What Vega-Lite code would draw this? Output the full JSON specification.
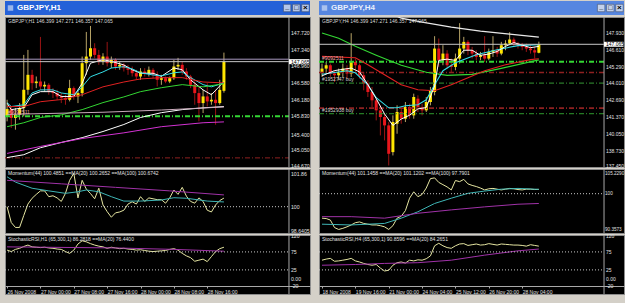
{
"$schema": "https://vega.github.io/schema/vega-lite/v6.json",
"background": "#d4d0c8",
"padding": {"left": 3, "top": 1, "right": 3, "bottom": 9},
"config": {"view": {"stroke": "#8c8c8c"}, "scale": {"continuousPadding": 0}, "font": "Liberation Sans",
 "axis": {"labelFont": "Liberation Sans", "labelFontSize": 5.5, "labelColor": "#e0e0e0", "domainColor": "#a8a8a8", "tickColor": "#a8a8a8", "grid": false, "title": null, "labelOverlap": false, "labelFlush": false, "labelBound": false, "tickSize": 2, "labelPadding": 1, "zindex": 1}},
"datasets": {
"Lc": [
{"i":0,"o":145.816,"h":146.195,"l":145.702,"c":145.983},{"i":1,"o":145.983,"h":146.043,"l":145.550,"c":145.778},{"i":2,"o":145.778,"h":146.005,"l":145.512,"c":145.854},{"i":3,"o":145.854,"h":146.119,"l":145.740,"c":146.005},{"i":4,"o":146.005,"h":147.219,"l":145.816,"c":146.423},{"i":5,"o":146.423,"h":147.333,"l":146.309,"c":146.764},{"i":6,"o":146.764,"h":146.878,"l":146.423,"c":146.574},{"i":7,"o":146.574,"h":146.726,"l":146.461,"c":146.612},{"i":8,"o":146.612,"h":147.629,"l":146.423,"c":146.498},{"i":9,"o":146.498,"h":146.612,"l":146.385,"c":146.536},{"i":10,"o":146.536,"h":146.574,"l":146.309,"c":146.385},{"i":11,"o":146.385,"h":146.461,"l":146.233,"c":146.347},{"i":12,"o":146.347,"h":146.423,"l":146.195,"c":146.271},{"i":13,"o":146.271,"h":146.347,"l":146.119,"c":146.233},{"i":14,"o":146.233,"h":146.309,"l":146.081,"c":146.195},{"i":15,"o":146.195,"h":146.650,"l":146.157,"c":146.461},{"i":16,"o":146.461,"h":146.498,"l":146.195,"c":146.271},{"i":17,"o":146.271,"h":146.423,"l":146.119,"c":146.347},{"i":18,"o":146.347,"h":147.181,"l":146.271,"c":147.030},{"i":19,"o":147.030,"h":147.743,"l":146.764,"c":147.181},{"i":20,"o":147.181,"h":147.879,"l":147.105,"c":147.371},{"i":21,"o":147.371,"h":147.485,"l":147.143,"c":147.219},{"i":22,"o":147.219,"h":147.333,"l":146.992,"c":147.067},{"i":23,"o":147.067,"h":147.257,"l":146.992,"c":147.181},{"i":24,"o":147.181,"h":147.515,"l":146.954,"c":147.030},{"i":25,"o":147.030,"h":147.181,"l":146.916,"c":147.105},{"i":26,"o":147.105,"h":147.143,"l":146.878,"c":146.954},{"i":27,"o":146.954,"h":147.067,"l":146.878,"c":146.992},{"i":28,"o":146.992,"h":147.030,"l":146.840,"c":146.916},{"i":29,"o":146.916,"h":146.992,"l":146.764,"c":146.878},{"i":30,"o":146.878,"h":146.954,"l":146.726,"c":146.802},{"i":31,"o":146.802,"h":146.878,"l":146.650,"c":146.726},{"i":32,"o":146.726,"h":146.916,"l":146.650,"c":146.840},{"i":33,"o":146.840,"h":146.916,"l":146.726,"c":146.802},{"i":34,"o":146.802,"h":146.954,"l":146.726,"c":146.878},{"i":35,"o":146.878,"h":146.916,"l":146.688,"c":146.764},{"i":36,"o":146.764,"h":146.840,"l":146.498,"c":146.650},{"i":37,"o":146.650,"h":146.764,"l":146.536,"c":146.688},{"i":38,"o":146.688,"h":146.726,"l":146.574,"c":146.612},{"i":39,"o":146.612,"h":146.726,"l":146.574,"c":146.688},{"i":40,"o":146.688,"h":147.105,"l":146.650,"c":146.954},{"i":41,"o":146.954,"h":147.151,"l":146.878,"c":146.992},{"i":42,"o":146.992,"h":147.067,"l":146.764,"c":146.840},{"i":43,"o":146.840,"h":146.916,"l":146.650,"c":146.726},{"i":44,"o":146.726,"h":146.764,"l":146.461,"c":146.536},{"i":45,"o":146.536,"h":146.612,"l":146.081,"c":146.347},{"i":46,"o":146.347,"h":146.498,"l":145.702,"c":146.119},{"i":47,"o":146.119,"h":146.423,"l":145.892,"c":146.271},{"i":48,"o":146.271,"h":146.574,"l":146.043,"c":146.157},{"i":49,"o":146.157,"h":146.347,"l":146.081,"c":146.195},{"i":50,"o":146.195,"h":146.423,"l":145.626,"c":146.119},{"i":51,"o":146.119,"h":146.650,"l":146.081,"c":146.420},{"i":52,"o":146.399,"h":147.271,"l":146.357,"c":147.065}],
"Rc": [
{"i":0,"o":144.896,"h":145.551,"l":144.503,"c":145.158},{"i":1,"o":145.158,"h":145.682,"l":144.765,"c":145.420},{"i":2,"o":145.420,"h":145.551,"l":144.503,"c":144.765},{"i":3,"o":144.765,"h":145.027,"l":144.110,"c":144.634},{"i":4,"o":144.634,"h":145.158,"l":144.241,"c":144.896},{"i":5,"o":144.896,"h":145.551,"l":144.503,"c":145.158},{"i":6,"o":145.158,"h":145.420,"l":144.372,"c":144.765},{"i":7,"o":144.765,"h":147.935,"l":144.503,"c":145.682},{"i":8,"o":145.682,"h":145.944,"l":144.896,"c":145.420},{"i":9,"o":145.420,"h":145.551,"l":144.372,"c":144.634},{"i":10,"o":144.634,"h":144.896,"l":143.455,"c":143.979},{"i":11,"o":143.979,"h":144.241,"l":142.931,"c":143.324},{"i":12,"o":143.324,"h":143.717,"l":142.145,"c":142.669},{"i":13,"o":142.669,"h":142.931,"l":141.097,"c":141.883},{"i":14,"o":141.883,"h":142.276,"l":139.918,"c":141.359},{"i":15,"o":141.359,"h":141.621,"l":139.525,"c":140.704},{"i":16,"o":140.704,"h":140.966,"l":137.560,"c":138.477},{"i":17,"o":138.608,"h":141.490,"l":138.346,"c":140.966},{"i":18,"o":140.835,"h":142.276,"l":140.049,"c":141.752},{"i":19,"o":141.752,"h":142.014,"l":140.835,"c":141.228},{"i":20,"o":141.228,"h":142.538,"l":140.966,"c":142.145},{"i":21,"o":142.145,"h":142.407,"l":141.228,"c":141.490},{"i":22,"o":141.490,"h":143.193,"l":141.228,"c":142.931},{"i":23,"o":142.800,"h":143.062,"l":141.752,"c":142.145},{"i":24,"o":142.145,"h":142.407,"l":141.490,"c":141.883},{"i":25,"o":141.883,"h":142.931,"l":141.752,"c":142.538},{"i":26,"o":142.538,"h":143.717,"l":142.276,"c":143.455},{"i":27,"o":143.324,"h":147.699,"l":143.062,"c":146.730},{"i":28,"o":146.730,"h":147.516,"l":145.289,"c":145.813},{"i":29,"o":145.813,"h":146.992,"l":145.420,"c":146.337},{"i":30,"o":146.337,"h":146.599,"l":145.158,"c":145.420},{"i":31,"o":145.420,"h":145.944,"l":144.896,"c":145.289},{"i":32,"o":145.289,"h":146.337,"l":145.027,"c":145.944},{"i":33,"o":145.944,"h":148.721,"l":145.551,"c":146.730},{"i":34,"o":146.730,"h":147.647,"l":146.337,"c":147.254},{"i":35,"o":147.254,"h":147.385,"l":146.206,"c":146.599},{"i":36,"o":146.599,"h":146.861,"l":145.944,"c":146.337},{"i":37,"o":146.337,"h":146.599,"l":145.813,"c":146.075},{"i":38,"o":146.075,"h":146.468,"l":145.813,"c":146.206},{"i":39,"o":146.206,"h":147.699,"l":145.682,"c":145.944},{"i":40,"o":145.944,"h":146.730,"l":145.813,"c":146.468},{"i":41,"o":146.468,"h":147.699,"l":146.075,"c":146.599},{"i":42,"o":146.599,"h":146.861,"l":146.075,"c":146.337},{"i":43,"o":146.337,"h":147.254,"l":146.206,"c":146.992},{"i":44,"o":146.992,"h":147.385,"l":146.599,"c":147.123},{"i":45,"o":147.123,"h":148.014,"l":146.992,"c":147.437},{"i":46,"o":147.437,"h":147.595,"l":146.861,"c":147.123},{"i":47,"o":147.123,"h":147.254,"l":146.730,"c":146.992},{"i":48,"o":146.992,"h":147.175,"l":146.599,"c":146.861},{"i":49,"o":146.861,"h":147.123,"l":146.468,"c":146.730},{"i":50,"o":146.730,"h":146.992,"l":146.337,"c":146.599},{"i":51,"o":146.599,"h":146.861,"l":145.944,"c":146.420},{"i":52,"o":146.399,"h":147.271,"l":146.357,"c":147.065}],
"Lma": [
{"s":"f","i":0,"v":146.12},{"s":"f","i":1,"v":145.97},{"s":"f","i":4,"v":146.01},{"s":"f","i":6,"v":146.31},{"s":"f","i":8,"v":146.38},{"s":"f","i":11,"v":146.38},{"s":"f","i":13,"v":146.27},{"s":"f","i":16,"v":146.27},{"s":"f","i":18,"v":146.57},{"s":"f","i":20,"v":147.03},{"s":"f","i":23,"v":147.11},{"s":"f","i":25,"v":147.07},{"s":"f","i":28,"v":146.99},{"s":"f","i":30,"v":146.88},{"s":"f","i":32,"v":146.80},{"s":"f","i":35,"v":146.80},{"s":"f","i":37,"v":146.73},{"s":"f","i":40,"v":146.92},{"s":"f","i":42,"v":146.88},{"s":"f","i":44,"v":146.65},{"s":"f","i":47,"v":146.42},{"s":"f","i":49,"v":146.31},{"s":"f","i":52,"v":146.61},
{"s":"c","i":0,"v":146.13},{"s":"c","i":1,"v":146.04},{"s":"c","i":4,"v":146.08},{"s":"c","i":6,"v":146.35},{"s":"c","i":8,"v":146.42},{"s":"c","i":11,"v":146.42},{"s":"c","i":13,"v":146.35},{"s":"c","i":16,"v":146.31},{"s":"c","i":18,"v":146.49},{"s":"c","i":20,"v":146.72},{"s":"c","i":23,"v":146.83},{"s":"c","i":25,"v":146.92},{"s":"c","i":28,"v":146.95},{"s":"c","i":30,"v":146.90},{"s":"c","i":32,"v":146.81},{"s":"c","i":35,"v":146.76},{"s":"c","i":37,"v":146.74},{"s":"c","i":40,"v":146.81},{"s":"c","i":42,"v":146.83},{"s":"c","i":44,"v":146.70},{"s":"c","i":47,"v":146.54},{"s":"c","i":49,"v":146.49},{"s":"c","i":52,"v":146.58},
{"s":"r","i":0,"v":146.04},{"s":"r","i":4,"v":146.04},{"s":"r","i":8,"v":146.15},{"s":"r","i":13,"v":146.20},{"s":"r","i":18,"v":146.31},{"s":"r","i":23,"v":146.49},{"s":"r","i":28,"v":146.60},{"s":"r","i":32,"v":146.67},{"s":"r","i":37,"v":146.70},{"s":"r","i":42,"v":146.70},{"s":"r","i":47,"v":146.60},{"s":"r","i":52,"v":146.58},
{"s":"g","i":0,"v":145.58},{"s":"g","i":4,"v":145.67},{"s":"g","i":8,"v":145.79},{"s":"g","i":13,"v":145.85},{"s":"g","i":18,"v":145.97},{"s":"g","i":23,"v":146.13},{"s":"g","i":28,"v":146.26},{"s":"g","i":32,"v":146.38},{"s":"g","i":37,"v":146.47},{"s":"g","i":42,"v":146.54},{"s":"g","i":47,"v":146.49},{"s":"g","i":52,"v":146.56},
{"s":"w","i":0,"v":144.875},{"s":"w","i":4,"v":144.94},{"s":"w","i":8,"v":145.10},{"s":"w","i":13,"v":145.22},{"s":"w","i":18,"v":145.33},{"s":"w","i":23,"v":145.47},{"s":"w","i":28,"v":145.63},{"s":"w","i":32,"v":145.79},{"s":"w","i":37,"v":145.90},{"s":"w","i":42,"v":145.97},{"s":"w","i":47,"v":146.01},{"s":"w","i":52,"v":146.04},
{"s":"p","i":0,"v":145.86},{"s":"p","i":23,"v":145.91},{"s":"p","i":37,"v":145.96},{"s":"p","i":52,"v":146.03},
{"s":"m","i":0,"v":144.97},{"s":"m","i":8,"v":145.13},{"s":"m","i":18,"v":145.31},{"s":"m","i":28,"v":145.44},{"s":"m","i":37,"v":145.58},{"s":"m","i":47,"v":145.67},{"s":"m","i":52,"v":145.69}],
"Rma": [
{"s":"w","i":17,"v":149.40},{"s":"w","i":19,"v":149.11},{"s":"w","i":24,"v":148.80},{"s":"w","i":31,"v":148.41},{"s":"w","i":38,"v":148.09},{"s":"w","i":45,"v":147.86},{"s":"w","i":52,"v":147.62},
{"s":"g","i":0,"v":147.95},{"s":"g","i":4,"v":147.54},{"s":"g","i":8,"v":146.91},{"s":"g","i":13,"v":146.21},{"s":"g","i":19,"v":145.42},{"s":"g","i":25,"v":144.87},{"s":"g","i":30,"v":144.63},{"s":"g","i":36,"v":144.71},{"s":"g","i":43,"v":145.18},{"s":"g","i":52,"v":145.84},
{"s":"r","i":0,"v":146.12},{"s":"r","i":8,"v":146.01},{"s":"r","i":11,"v":145.46},{"s":"r","i":15,"v":144.67},{"s":"r","i":19,"v":143.89},{"s":"r","i":23,"v":143.50},{"s":"r","i":27,"v":143.42},{"s":"r","i":31,"v":143.89},{"s":"r","i":35,"v":144.44},{"s":"r","i":39,"v":144.99},{"s":"r","i":44,"v":145.46},{"s":"r","i":50,"v":145.86},{"s":"r","i":52,"v":145.93},
{"s":"c","i":0,"v":144.72},{"s":"c","i":6,"v":144.99},{"s":"c","i":8,"v":144.83},{"s":"c","i":11,"v":143.89},{"s":"c","i":13,"v":142.87},{"s":"c","i":16,"v":142.08},{"s":"c","i":18,"v":142.08},{"s":"c","i":20,"v":142.24},{"s":"c","i":23,"v":142.32},{"s":"c","i":25,"v":142.71},{"s":"c","i":27,"v":143.89},{"s":"c","i":29,"v":144.99},{"s":"c","i":32,"v":145.62},{"s":"c","i":37,"v":146.25},{"s":"c","i":42,"v":146.64},{"s":"c","i":47,"v":146.96},{"s":"c","i":52,"v":147.04},
{"s":"f","i":0,"v":144.59},{"s":"f","i":3,"v":145.00},{"s":"f","i":7,"v":145.20},{"s":"f","i":9,"v":144.90},{"s":"f","i":11,"v":143.90},{"s":"f","i":13,"v":142.80},{"s":"f","i":15,"v":141.60},{"s":"f","i":17,"v":140.70},{"s":"f","i":19,"v":141.20},{"s":"f","i":21,"v":141.50},{"s":"f","i":23,"v":142.00},{"s":"f","i":25,"v":142.10},{"s":"f","i":27,"v":143.80},{"s":"f","i":28,"v":145.80},{"s":"f","i":30,"v":145.90},{"s":"f","i":32,"v":145.80},{"s":"f","i":34,"v":146.60},{"s":"f","i":36,"v":146.60},{"s":"f","i":38,"v":146.20},{"s":"f","i":40,"v":146.30},{"s":"f","i":42,"v":146.50},{"s":"f","i":44,"v":146.90},{"s":"f","i":46,"v":147.20},{"s":"f","i":48,"v":147.00},{"s":"f","i":50,"v":146.80},{"s":"f","i":52,"v":146.90}],
"Llev": [{"p":145.816,"k":"g"},{"p":144.868,"k":"r"}],
"Rlev": [{"p":145.69,"k":"g"},{"p":144.85,"k":"r"},{"p":144.02,"k":"d"},{"p":142.06,"k":"r"},{"p":141.62,"k":"q"}],
"Lbid": [{"p":147.121,"k":"v"},{"p":147.065,"k":"b"}],
"Rbid": [{"p":147.065,"k":"b"}],
"Ltx": [{"p":145.816,"t":"#9092511","k":"a"}],
"Rtx": [{"p":145.69,"t":"#9092511","k":"a"},{"p":144.02,"t":"#1952747 buy","k":"b"},{"p":141.62,"t":"#1952938 buy","k":"b"}],
"LpTicks": [{"v":147.72,"t":"147.720"},{"v":147.34,"t":"147.340"},{"v":146.96,"t":"146.960"},{"v":146.58,"t":"146.580"},{"v":146.18,"t":"146.180"},{"v":145.83,"t":"145.830"},{"v":145.40,"t":"145.400"},{"v":145.05,"t":"145.050"},{"v":144.69,"t":"144.670"}],
"RpTicks": [{"v":147.93,"t":"147.930"},{"v":146.61,"t":"146.610"},{"v":145.29,"t":"145.290"},{"v":144.01,"t":"144.010"},{"v":142.69,"t":"142.690"},{"v":141.37,"t":"141.370"},{"v":140.05,"t":"140.050"},{"v":138.73,"t":"138.730"},{"v":137.50,"t":"137.450"}],
"LmTicks": [{"v":101.86,"t":"101.86"},{"v":100,"t":"100"},{"v":98.6405,"t":"98.6405"}],
"RmTicks": [{"v":105.229,"t":"105.2290"},{"v":100,"t":"100"},{"v":90.3573,"t":"90.3573"}],
"sTicks": [{"v":120,"t":"120"},{"v":75,"t":"75"},{"v":25,"t":"25"},{"v":0,"t":"0.00"},{"v":-20,"t":"-20"}],
"Lmo": [
{"s":"m","i":0,"v":100.0},{"s":"m","i":1,"v":99.1},{"s":"m","i":2,"v":98.82},{"s":"m","i":3,"v":98.82},{"s":"m","i":4,"v":99.5},{"s":"m","i":5,"v":100.15},{"s":"m","i":6,"v":100.48},{"s":"m","i":7,"v":100.7},{"s":"m","i":8,"v":100.9},{"s":"m","i":9,"v":100.9},{"s":"m","i":10,"v":100.57},{"s":"m","i":11,"v":100.62},{"s":"m","i":12,"v":100.5},{"s":"m","i":13,"v":100.3},{"s":"m","i":14,"v":100.76},{"s":"m","i":15,"v":101.5},{"s":"m","i":16,"v":101.9},{"s":"m","i":17,"v":100.5},{"s":"m","i":18,"v":101.5},{"s":"m","i":19,"v":101.0},{"s":"m","i":20,"v":100.75},{"s":"m","i":21,"v":100.45},{"s":"m","i":22,"v":101.05},{"s":"m","i":23,"v":100.1},{"s":"m","i":24,"v":99.72},{"s":"m","i":25,"v":99.4},{"s":"m","i":26,"v":99.65},{"s":"m","i":27,"v":99.7},{"s":"m","i":28,"v":99.8},{"s":"m","i":29,"v":100.15},{"s":"m","i":30,"v":100.28},{"s":"m","i":31,"v":100.15},{"s":"m","i":32,"v":100.57},{"s":"m","i":33,"v":100.3},{"s":"m","i":34,"v":100.5},{"s":"m","i":35,"v":100.45},{"s":"m","i":36,"v":100.4},{"s":"m","i":37,"v":100.4},{"s":"m","i":38,"v":100.2},{"s":"m","i":39,"v":100.5},{"s":"m","i":40,"v":100.95},{"s":"m","i":41,"v":100.7},{"s":"m","i":42,"v":101.1},{"s":"m","i":43,"v":100.6},{"s":"m","i":44,"v":100.3},{"s":"m","i":45,"v":100.2},{"s":"m","i":46,"v":100.5},{"s":"m","i":47,"v":100.3},{"s":"m","i":48,"v":99.8},{"s":"m","i":49,"v":99.7},{"s":"m","i":50,"v":100.1},{"s":"m","i":51,"v":100.35},{"s":"m","i":52,"v":100.49},
{"s":"a","i":0,"v":101.7},{"s":"a","i":2,"v":101.4},{"s":"a","i":6,"v":101.05},{"s":"a","i":10,"v":100.9},{"s":"a","i":14,"v":100.76},{"s":"a","i":17,"v":100.85},{"s":"a","i":19,"v":100.95},{"s":"a","i":22,"v":100.85},{"s":"a","i":25,"v":100.57},{"s":"a","i":28,"v":100.32},{"s":"a","i":32,"v":100.32},{"s":"a","i":37,"v":100.38},{"s":"a","i":40,"v":100.51},{"s":"a","i":43,"v":100.48},{"s":"a","i":48,"v":100.32},{"s":"a","i":52,"v":100.27},
{"s":"b","i":0,"v":101.5},{"s":"b","i":13,"v":101.3},{"s":"b","i":26,"v":101.1},{"s":"b","i":39,"v":100.9},{"s":"b","i":52,"v":100.67}],
"Rmo": [
{"s":"m","i":0,"v":93.5},{"s":"m","i":1,"v":93.4},{"s":"m","i":2,"v":93.0},{"s":"m","i":3,"v":91.0},{"s":"m","i":4,"v":90.5},{"s":"m","i":5,"v":90.8},{"s":"m","i":6,"v":91.2},{"s":"m","i":7,"v":91.7},{"s":"m","i":8,"v":92.3},{"s":"m","i":9,"v":92.5},{"s":"m","i":10,"v":92.1},{"s":"m","i":11,"v":91.9},{"s":"m","i":12,"v":91.7},{"s":"m","i":13,"v":91.7},{"s":"m","i":14,"v":91.5},{"s":"m","i":15,"v":91.2},{"s":"m","i":16,"v":90.5},{"s":"m","i":17,"v":91.5},{"s":"m","i":18,"v":93.5},{"s":"m","i":19,"v":94.0},{"s":"m","i":20,"v":95.5},{"s":"m","i":21,"v":98.8},{"s":"m","i":22,"v":100.5},{"s":"m","i":23,"v":99.2},{"s":"m","i":24,"v":99.8},{"s":"m","i":25,"v":101.5},{"s":"m","i":26,"v":104.0},{"s":"m","i":27,"v":104.2},{"s":"m","i":28,"v":103.0},{"s":"m","i":29,"v":102.4},{"s":"m","i":30,"v":101.8},{"s":"m","i":31,"v":101.0},{"s":"m","i":32,"v":103.5},{"s":"m","i":33,"v":103.2},{"s":"m","i":34,"v":103.8},{"s":"m","i":35,"v":102.6},{"s":"m","i":36,"v":102.2},{"s":"m","i":37,"v":101.9},{"s":"m","i":38,"v":101.5},{"s":"m","i":39,"v":101.0},{"s":"m","i":40,"v":101.3},{"s":"m","i":41,"v":101.4},{"s":"m","i":42,"v":101.2},{"s":"m","i":43,"v":101.0},{"s":"m","i":44,"v":101.2},{"s":"m","i":45,"v":101.4},{"s":"m","i":46,"v":101.3},{"s":"m","i":47,"v":101.1},{"s":"m","i":48,"v":101.0},{"s":"m","i":49,"v":101.2},{"s":"m","i":50,"v":101.2},{"s":"m","i":51,"v":101.1},{"s":"m","i":52,"v":101.15},
{"s":"a","i":0,"v":91.9},{"s":"a","i":7,"v":91.7},{"s":"a","i":15,"v":92.1},{"s":"a","i":19,"v":93.5},{"s":"a","i":23,"v":95.2},{"s":"a","i":27,"v":97.4},{"s":"a","i":31,"v":98.8},{"s":"a","i":35,"v":100.1},{"s":"a","i":39,"v":100.7},{"s":"a","i":43,"v":101.2},{"s":"a","i":47,"v":101.4},{"s":"a","i":52,"v":101.15},
{"s":"b","i":0,"v":93.9},{"s":"b","i":7,"v":93.9},{"s":"b","i":15,"v":93.5},{"s":"b","i":23,"v":94.8},{"s":"b","i":31,"v":95.7},{"s":"b","i":39,"v":96.5},{"s":"b","i":47,"v":97.2},{"s":"b","i":52,"v":97.4}],
"Lst": [
{"s":"m","i":0,"v":80},{"s":"m","i":1,"v":76},{"s":"m","i":2,"v":82},{"s":"m","i":3,"v":85},{"s":"m","i":4,"v":90},{"s":"m","i":5,"v":94},{"s":"m","i":6,"v":89},{"s":"m","i":7,"v":88},{"s":"m","i":8,"v":87},{"s":"m","i":9,"v":88},{"s":"m","i":10,"v":86},{"s":"m","i":11,"v":85},{"s":"m","i":12,"v":83},{"s":"m","i":13,"v":82},{"s":"m","i":14,"v":76},{"s":"m","i":15,"v":71},{"s":"m","i":16,"v":80},{"s":"m","i":17,"v":97},{"s":"m","i":18,"v":106},{"s":"m","i":19,"v":103},{"s":"m","i":20,"v":98},{"s":"m","i":21,"v":94},{"s":"m","i":22,"v":91},{"s":"m","i":23,"v":89},{"s":"m","i":24,"v":85},{"s":"m","i":25,"v":88},{"s":"m","i":26,"v":86},{"s":"m","i":27,"v":84},{"s":"m","i":28,"v":85},{"s":"m","i":29,"v":83},{"s":"m","i":30,"v":82},{"s":"m","i":31,"v":80},{"s":"m","i":32,"v":81},{"s":"m","i":33,"v":79},{"s":"m","i":34,"v":77},{"s":"m","i":35,"v":76},{"s":"m","i":36,"v":77},{"s":"m","i":37,"v":78},{"s":"m","i":38,"v":79},{"s":"m","i":39,"v":82},{"s":"m","i":40,"v":84},{"s":"m","i":41,"v":80},{"s":"m","i":42,"v":71},{"s":"m","i":43,"v":64},{"s":"m","i":44,"v":59},{"s":"m","i":45,"v":49},{"s":"m","i":46,"v":52},{"s":"m","i":47,"v":55},{"s":"m","i":48,"v":48},{"s":"m","i":49,"v":62},{"s":"m","i":50,"v":76},{"s":"m","i":51,"v":84},{"s":"m","i":52,"v":88},
{"s":"b","i":0,"v":89},{"s":"b","i":26,"v":86},{"s":"b","i":40,"v":82},{"s":"b","i":52,"v":77}],
"Rst": [
{"s":"m","i":0,"v":52},{"s":"m","i":1,"v":55},{"s":"m","i":2,"v":57},{"s":"m","i":3,"v":49},{"s":"m","i":4,"v":50},{"s":"m","i":5,"v":52},{"s":"m","i":6,"v":54},{"s":"m","i":7,"v":57},{"s":"m","i":8,"v":50},{"s":"m","i":9,"v":47},{"s":"m","i":10,"v":43},{"s":"m","i":11,"v":40},{"s":"m","i":12,"v":38},{"s":"m","i":13,"v":40},{"s":"m","i":14,"v":30},{"s":"m","i":15,"v":22},{"s":"m","i":16,"v":24},{"s":"m","i":17,"v":38},{"s":"m","i":18,"v":45},{"s":"m","i":19,"v":47},{"s":"m","i":20,"v":44},{"s":"m","i":21,"v":52},{"s":"m","i":22,"v":50},{"s":"m","i":23,"v":53},{"s":"m","i":24,"v":52},{"s":"m","i":25,"v":56},{"s":"m","i":26,"v":64},{"s":"m","i":27,"v":92},{"s":"m","i":28,"v":99},{"s":"m","i":29,"v":92},{"s":"m","i":30,"v":87},{"s":"m","i":31,"v":85},{"s":"m","i":32,"v":92},{"s":"m","i":33,"v":97},{"s":"m","i":34,"v":98},{"s":"m","i":35,"v":93},{"s":"m","i":36,"v":95},{"s":"m","i":37,"v":97},{"s":"m","i":38,"v":94},{"s":"m","i":39,"v":95},{"s":"m","i":40,"v":98},{"s":"m","i":41,"v":96},{"s":"m","i":42,"v":94},{"s":"m","i":43,"v":97},{"s":"m","i":44,"v":96},{"s":"m","i":45,"v":95},{"s":"m","i":46,"v":94},{"s":"m","i":47,"v":94},{"s":"m","i":48,"v":93},{"s":"m","i":49,"v":91},{"s":"m","i":50,"v":95},{"s":"m","i":51,"v":93},{"s":"m","i":52,"v":91},
{"s":"b","i":0,"v":38},{"s":"b","i":8,"v":40},{"s":"b","i":15,"v":43},{"s":"b","i":23,"v":45},{"s":"b","i":31,"v":52},{"s":"b","i":39,"v":66},{"s":"b","i":47,"v":78},{"s":"b","i":52,"v":83}],
"stoLev": [{"p":75},{"p":25}],
"moLev": [{"p":100}],
"one": [{"a":1}]
},
"columns": 2,
"spacing": {"row": 2, "column": 9},
"bounds": "flush",
"concat": [
 {"width": 305, "height": 14, "view": {"fill": "#2461d8", "stroke": null},
  "layer": [
   {"data": {"values": [{"t": "GBPJPY,H1"}]}, "mark": {"type": "text", "align": "left", "baseline": "middle", "dx": 12, "fontSize": 8, "fontWeight": "bold", "color": "#ffffff"},
    "encoding": {"text": {"field": "t"}, "x": {"datum": 0, "type": "quantitative", "scale": {"domain": [0, 1], "nice": false}, "axis": null}, "y": {"datum": 0.5, "type": "quantitative", "scale": {"domain": [0, 1], "nice": false}, "axis": null}}},
   {"data": {"values": [{"t": "icon"}]}, "mark": {"type": "square", "size": 30, "filled": true, "color": "#cfdcf4"}, "encoding": {"x": {"datum": 0.018, "type": "quantitative"}, "y": {"datum": 0.5, "type": "quantitative"}}},
   {"data": {"values": [{"t": "min"}]}, "mark": {"type": "square", "size": 55, "filled": true, "color": "#f2f2f2", "stroke": "#404040", "strokeWidth": 0.6}, "encoding": {"x": {"datum": 0.925, "type": "quantitative"}, "y": {"datum": 0.5, "type": "quantitative"}}},
   {"data": {"values": [{"t": "max"}]}, "mark": {"type": "square", "size": 55, "filled": true, "color": "#f2f2f2", "stroke": "#404040", "strokeWidth": 0.6}, "encoding": {"x": {"datum": 0.955, "type": "quantitative"}, "y": {"datum": 0.5, "type": "quantitative"}}},
   {"data": {"values": [{"t": "close"}]}, "mark": {"type": "square", "size": 55, "filled": true, "color": "#f2f2f2", "stroke": "#404040", "strokeWidth": 0.6}, "encoding": {"x": {"datum": 0.985, "type": "quantitative"}, "y": {"datum": 0.5, "type": "quantitative"}}},
   {"data": {"values": [{"g": "_"}]}, "mark": {"type": "text", "fontSize": 7, "fontWeight": "bold", "color": "#000000", "dy": -1}, "encoding": {"text": {"field": "g"}, "x": {"datum": 0.925, "type": "quantitative"}, "y": {"datum": 0.5, "type": "quantitative"}}},
   {"data": {"values": [{"g": "□"}]}, "mark": {"type": "text", "fontSize": 7, "color": "#000000"}, "encoding": {"text": {"field": "g"}, "x": {"datum": 0.955, "type": "quantitative"}, "y": {"datum": 0.5, "type": "quantitative"}}},
   {"data": {"values": [{"g": "×"}]}, "mark": {"type": "text", "fontSize": 8, "fontWeight": "bold", "color": "#000000"}, "encoding": {"text": {"field": "g"}, "x": {"datum": 0.985, "type": "quantitative"}, "y": {"datum": 0.5, "type": "quantitative"}}}
  ]},
 {"width": 305, "height": 14, "view": {"fill": "#5686e0", "stroke": null},
  "layer": [
   {"data": {"values": [{"t": "GBPJPY,H4"}]}, "mark": {"type": "text", "align": "left", "baseline": "middle", "dx": 12, "fontSize": 8, "fontWeight": "bold", "color": "#e8eefc"},
    "encoding": {"text": {"field": "t"}, "x": {"datum": 0, "type": "quantitative", "scale": {"domain": [0, 1], "nice": false}, "axis": null}, "y": {"datum": 0.5, "type": "quantitative", "scale": {"domain": [0, 1], "nice": false}, "axis": null}}},
   {"data": {"values": [{"t": "icon"}]}, "mark": {"type": "square", "size": 30, "filled": true, "color": "#cfdcf4"}, "encoding": {"x": {"datum": 0.018, "type": "quantitative"}, "y": {"datum": 0.5, "type": "quantitative"}}},
   {"data": {"values": [{"t": "min"}]}, "mark": {"type": "square", "size": 55, "filled": true, "color": "#f2f2f2", "stroke": "#404040", "strokeWidth": 0.6}, "encoding": {"x": {"datum": 0.925, "type": "quantitative"}, "y": {"datum": 0.5, "type": "quantitative"}}},
   {"data": {"values": [{"t": "max"}]}, "mark": {"type": "square", "size": 55, "filled": true, "color": "#f2f2f2", "stroke": "#404040", "strokeWidth": 0.6}, "encoding": {"x": {"datum": 0.955, "type": "quantitative"}, "y": {"datum": 0.5, "type": "quantitative"}}},
   {"data": {"values": [{"t": "close"}]}, "mark": {"type": "square", "size": 55, "filled": true, "color": "#f2f2f2", "stroke": "#404040", "strokeWidth": 0.6}, "encoding": {"x": {"datum": 0.985, "type": "quantitative"}, "y": {"datum": 0.5, "type": "quantitative"}}},
   {"data": {"values": [{"g": "_"}]}, "mark": {"type": "text", "fontSize": 7, "fontWeight": "bold", "color": "#000000", "dy": -1}, "encoding": {"text": {"field": "g"}, "x": {"datum": 0.925, "type": "quantitative"}, "y": {"datum": 0.5, "type": "quantitative"}}},
   {"data": {"values": [{"g": "□"}]}, "mark": {"type": "text", "fontSize": 7, "color": "#000000"}, "encoding": {"text": {"field": "g"}, "x": {"datum": 0.955, "type": "quantitative"}, "y": {"datum": 0.5, "type": "quantitative"}}},
   {"data": {"values": [{"g": "×"}]}, "mark": {"type": "text", "fontSize": 8, "fontWeight": "bold", "color": "#000000"}, "encoding": {"text": {"field": "g"}, "x": {"datum": 0.985, "type": "quantitative"}, "y": {"datum": 0.5, "type": "quantitative"}}}
  ]},
 {"width": 305, "height": 150, "view": {"fill": "#000000", "stroke": "#8c8c8c"},
  "resolve": {"scale": {"color": "independent", "strokeWidth": "independent"}},
  "layer": [
   {"data": {"name": "Lc"}, "mark": {"type": "rule", "strokeWidth": 1},
    "encoding": {"x": {"field": "i", "type": "quantitative", "scale": {"domain": [-0.5, 72.64], "nice": false, "zero": false, "padding": 0}, "axis": null},
     "y": {"field": "l", "type": "quantitative", "scale": {"domain": [144.66, 148.084], "nice": false, "zero": false}, "axis": null},
     "y2": {"field": "h"},
     "color": {"condition": {"test": "datum.c >= datum.o", "value": "#b8a468"}, "value": "#9a1414"}}},
   {"data": {"name": "Lc"}, "mark": {"type": "bar", "width": 3},
    "encoding": {"x": {"field": "i", "type": "quantitative", "axis": null}, "y": {"field": "o", "type": "quantitative", "axis": null}, "y2": {"field": "c"},
     "color": {"condition": {"test": "datum.c >= datum.o", "value": "#ffe600"}, "value": "#e8161c"}}},
   {"data": {"name": "Llev"}, "mark": {"type": "rule", "strokeDash": [5, 2, 1, 2]},
    "encoding": {"x": {"datum": -0.5, "type": "quantitative"}, "x2": {"datum": 67.6}, "y": {"field": "p", "type": "quantitative", "axis": null},
     "color": {"field": "k", "scale": {"domain": ["g", "r"], "range": ["#33d633", "#8e2020"]}, "legend": null},
     "strokeWidth": {"field": "k", "scale": {"domain": ["g", "r"], "range": [2, 1]}, "legend": null}}},
   {"data": {"name": "Lma"}, "mark": {"type": "line", "clip": true},
    "encoding": {"x": {"field": "i", "type": "quantitative", "axis": null}, "y": {"field": "v", "type": "quantitative", "axis": null},
     "color": {"field": "s", "scale": {"domain": ["f", "c", "r", "g", "w", "p", "m"], "range": ["#ffffff", "#34dfe8", "#e02222", "#33d633", "#ffffff", "#c9a9ba", "#d232d2"]}, "legend": null},
     "strokeWidth": {"field": "s", "scale": {"domain": ["f", "c", "r", "g", "w", "p", "m"], "range": [1, 1, 1, 1, 2, 1.5, 1.5]}, "legend": null}}},
   {"data": {"name": "Lbid"}, "mark": {"type": "rule"},
    "encoding": {"x": {"datum": -0.5, "type": "quantitative"}, "x2": {"datum": 67.6}, "y": {"field": "p", "type": "quantitative", "axis": null},
     "color": {"field": "k", "scale": {"domain": ["v", "b"], "range": ["#a898c0", "#c8c8c8"]}, "legend": null}}},
   {"data": {"name": "Ltx"}, "mark": {"type": "text", "align": "left", "baseline": "bottom", "dx": 3, "dy": -1, "fontSize": 5},
    "encoding": {"x": {"datum": -0.5, "type": "quantitative"}, "y": {"field": "p", "type": "quantitative", "axis": null}, "text": {"field": "t"},
     "color": {"condition": {"test": "datum.k == 'a'", "value": "#e8a8a8"}, "value": "#d0d0d0"}}},
   {"data": {"name": "one"}, "mark": {"type": "rule", "color": "#a8a8a8"},
    "encoding": {"x": {"datum": 67.6, "type": "quantitative"}}},
   {"data": {"name": "LpTicks"}, "mark": {"type": "text", "align": "left", "baseline": "middle", "dx": 2, "fontSize": 5.2, "color": "#e0e0e0"},
    "encoding": {"x": {"datum": 67.6, "type": "quantitative"}, "y": {"field": "v", "type": "quantitative", "axis": null}, "text": {"field": "t"}}},
   {"data": {"values": [{"p": 147.065}]}, "mark": {"type": "rect", "color": "#ffffff"},
    "encoding": {"x": {"datum": 67.6, "type": "quantitative"}, "x2": {"datum": 72.5}, "y": {"datum": 147.122, "type": "quantitative", "axis": null}, "y2": {"datum": 147.008}}},
   {"data": {"values": [{"p": 147.065, "t": "147.065"}]}, "mark": {"type": "text", "align": "left", "baseline": "middle", "dx": 2, "fontSize": 5.2, "color": "#000000"},
    "encoding": {"x": {"datum": 67.6, "type": "quantitative"}, "y": {"field": "p", "type": "quantitative", "axis": null}, "text": {"field": "t"}}},
   {"data": {"values": [{"t": "GBPJPY,H1  146.399 147.271 146.357 147.065"}]}, "mark": {"type": "text", "align": "left", "baseline": "top", "dx": 3, "dy": 2, "fontSize": 5, "color": "#d8d8d8"},
    "encoding": {"x": {"datum": -0.5, "type": "quantitative"}, "y": {"datum": 148.084, "type": "quantitative", "axis": null}, "text": {"field": "t"}}}
  ]},
 {"width": 305, "height": 150, "view": {"fill": "#000000", "stroke": "#8c8c8c"},
  "resolve": {"scale": {"color": "independent", "strokeWidth": "independent"}},
  "layer": [
   {"data": {"name": "Rc"}, "mark": {"type": "rule", "strokeWidth": 1},
    "encoding": {"x": {"field": "i", "type": "quantitative", "scale": {"domain": [-0.72, 72.42], "nice": false, "zero": false, "padding": 0}, "axis": null},
     "y": {"field": "l", "type": "quantitative", "scale": {"domain": [137.44, 149.205], "nice": false, "zero": false}, "axis": null},
     "y2": {"field": "h"},
     "color": {"condition": {"test": "datum.c >= datum.o", "value": "#b8a468"}, "value": "#9a1414"}}},
   {"data": {"name": "Rc"}, "mark": {"type": "bar", "width": 3},
    "encoding": {"x": {"field": "i", "type": "quantitative", "axis": null}, "y": {"field": "o", "type": "quantitative", "axis": null}, "y2": {"field": "c"},
     "color": {"condition": {"test": "datum.c >= datum.o", "value": "#ffe600"}, "value": "#e8161c"}}},
   {"data": {"name": "Rlev"}, "mark": {"type": "rule", "strokeDash": [5, 2, 1, 2]},
    "encoding": {"x": {"datum": -0.72, "type": "quantitative"}, "x2": {"datum": 67.63}, "y": {"field": "p", "type": "quantitative", "axis": null},
     "color": {"field": "k", "scale": {"domain": ["g", "r", "d", "q"], "range": ["#33d633", "#8e2020", "#2a7a2a", "#2e9a2e"]}, "legend": null},
     "strokeWidth": {"field": "k", "scale": {"domain": ["g", "r", "d", "q"], "range": [2, 1, 1.5, 1.5]}, "legend": null}}},
   {"data": {"name": "Rma"}, "mark": {"type": "line", "clip": true},
    "encoding": {"x": {"field": "i", "type": "quantitative", "axis": null}, "y": {"field": "v", "type": "quantitative", "axis": null},
     "color": {"field": "s", "scale": {"domain": ["f", "c", "r", "g", "w"], "range": ["#ffffff", "#34dfe8", "#e02222", "#33d633", "#e8e8e8"]}, "legend": null},
     "strokeWidth": {"field": "s", "scale": {"domain": ["f", "c", "r", "g", "w"], "range": [1, 1.2, 1.2, 1.2, 2]}, "legend": null}}},
   {"data": {"name": "Rbid"}, "mark": {"type": "rule", "color": "#c8c8c8"},
    "encoding": {"x": {"datum": -0.72, "type": "quantitative"}, "x2": {"datum": 67.63}, "y": {"field": "p", "type": "quantitative", "axis": null}}},
   {"data": {"name": "Rtx"}, "mark": {"type": "text", "align": "left", "baseline": "bottom", "dx": 3, "dy": -1, "fontSize": 5},
    "encoding": {"x": {"datum": -0.72, "type": "quantitative"}, "y": {"field": "p", "type": "quantitative", "axis": null}, "text": {"field": "t"},
     "color": {"condition": {"test": "datum.k == 'a'", "value": "#e8a8a8"}, "value": "#d0d0d0"}}},
   {"data": {"name": "one"}, "mark": {"type": "rule", "color": "#a8a8a8"},
    "encoding": {"x": {"datum": 67.63, "type": "quantitative"}}},
   {"data": {"name": "RpTicks"}, "mark": {"type": "text", "align": "left", "baseline": "middle", "dx": 2, "fontSize": 5, "color": "#e0e0e0"},
    "encoding": {"x": {"datum": 67.63, "type": "quantitative"}, "y": {"field": "v", "type": "quantitative", "axis": null}, "text": {"field": "t"}}},
   {"data": {"values": [{"p": 147.065}]}, "mark": {"type": "rect", "color": "#ffffff"},
    "encoding": {"x": {"datum": 67.63, "type": "quantitative"}, "x2": {"datum": 72.3}, "y": {"datum": 147.26, "type": "quantitative", "axis": null}, "y2": {"datum": 146.87}}},
   {"data": {"values": [{"p": 147.065, "t": "147.065"}]}, "mark": {"type": "text", "align": "left", "baseline": "middle", "dx": 2, "fontSize": 5, "color": "#000000"},
    "encoding": {"x": {"datum": 67.63, "type": "quantitative"}, "y": {"field": "p", "type": "quantitative", "axis": null}, "text": {"field": "t"}}},
   {"data": {"values": [{"t": "GBPJPY,H4  146.399 147.271 146.357 147.065"}]}, "mark": {"type": "text", "align": "left", "baseline": "top", "dx": 3, "dy": 2, "fontSize": 5, "color": "#d8d8d8"},
    "encoding": {"x": {"datum": -0.72, "type": "quantitative"}, "y": {"datum": 149.205, "type": "quantitative", "axis": null}, "text": {"field": "t"}}}
  ]},
 {"width": 305, "height": 64, "view": {"fill": "#000000", "stroke": "#8c8c8c"},
  "layer": [
   {"data": {"name": "Lmo"}, "mark": {"type": "line", "strokeWidth": 1, "clip": true},
    "encoding": {"x": {"field": "i", "type": "quantitative", "scale": {"domain": [-0.5, 72.64], "nice": false, "zero": false, "padding": 0}, "axis": null},
     "y": {"field": "v", "type": "quantitative", "scale": {"domain": [98.504, 102.144], "nice": false, "zero": false}, "axis": null},
     "color": {"field": "s", "scale": {"domain": ["m", "a", "b"], "range": ["#e6e6a2", "#3fb6b6", "#a032a8"]}, "legend": null}}},
   {"data": {"name": "moLev"}, "mark": {"type": "rule", "strokeDash": [1, 2], "color": "#c8c8c8"},
    "encoding": {"x": {"datum": -0.5, "type": "quantitative"}, "x2": {"datum": 67.6}, "y": {"field": "p", "type": "quantitative", "axis": null}}},
   {"data": {"name": "one"}, "mark": {"type": "rule", "color": "#a8a8a8"},
    "encoding": {"x": {"datum": 67.6, "type": "quantitative"}}},
   {"data": {"name": "LmTicks"}, "mark": {"type": "text", "align": "left", "baseline": "middle", "dx": 2, "fontSize": 5.2, "color": "#e0e0e0"},
    "encoding": {"x": {"datum": 67.6, "type": "quantitative"}, "y": {"field": "v", "type": "quantitative", "axis": null}, "text": {"field": "t"}}},
   {"data": {"values": [{"t": "Momentum(44) 100.4851  ==MA(20) 100.2652  ==MA(100) 100.6742"}]}, "mark": {"type": "text", "align": "left", "baseline": "top", "dx": 3, "dy": 2, "fontSize": 5, "color": "#e0e0e0"},
    "encoding": {"x": {"datum": -0.5, "type": "quantitative"}, "y": {"datum": 102.144, "type": "quantitative", "axis": null}, "text": {"field": "t"}}}
  ]},
 {"width": 305, "height": 64, "view": {"fill": "#000000", "stroke": "#8c8c8c"},
  "layer": [
   {"data": {"name": "Rmo"}, "mark": {"type": "line", "strokeWidth": 1, "clip": true},
    "encoding": {"x": {"field": "i", "type": "quantitative", "scale": {"domain": [-0.72, 72.42], "nice": false, "zero": false, "padding": 0}, "axis": null},
     "y": {"field": "v", "type": "quantitative", "scale": {"domain": [89.56, 106.557], "nice": false, "zero": false}, "axis": null},
     "color": {"field": "s", "scale": {"domain": ["m", "a", "b"], "range": ["#e6e6a2", "#3fb6b6", "#a032a8"]}, "legend": null}}},
   {"data": {"name": "moLev"}, "mark": {"type": "rule", "strokeDash": [1, 2], "color": "#c8c8c8"},
    "encoding": {"x": {"datum": -0.72, "type": "quantitative"}, "x2": {"datum": 67.63}, "y": {"field": "p", "type": "quantitative", "axis": null}}},
   {"data": {"name": "one"}, "mark": {"type": "rule", "color": "#a8a8a8"},
    "encoding": {"x": {"datum": 67.63, "type": "quantitative"}}},
   {"data": {"name": "RmTicks"}, "mark": {"type": "text", "align": "left", "baseline": "middle", "dx": 1, "fontSize": 4.6, "color": "#e0e0e0"},
    "encoding": {"x": {"datum": 67.63, "type": "quantitative"}, "y": {"field": "v", "type": "quantitative", "axis": null}, "text": {"field": "t"}}},
   {"data": {"values": [{"t": "Momentum(44) 101.1458  ==MA(20) 101.1202  ==MA(100) 97.7901"}]}, "mark": {"type": "text", "align": "left", "baseline": "top", "dx": 3, "dy": 2, "fontSize": 5, "color": "#e0e0e0"},
    "encoding": {"x": {"datum": -0.72, "type": "quantitative"}, "y": {"datum": 106.557, "type": "quantitative", "axis": null}, "text": {"field": "t"}}}
  ]},
 {"width": 305, "height": 59, "view": {"fill": "#000000", "stroke": "#8c8c8c"},
  "layer": [
   {"data": {"name": "Lst"}, "mark": {"type": "line", "strokeWidth": 1, "clip": true},
    "encoding": {"x": {"field": "i", "type": "quantitative", "scale": {"domain": [-0.5, 72.64], "nice": false, "zero": false, "padding": 0},
      "axis": {"orient": "bottom", "offset": -8, "values": [0, 8, 16, 24, 32, 40, 48], "labelExpr": "['26 Nov 2008','27 Nov 00:00','27 Nov 08:00','27 Nov 16:00','28 Nov 00:00','28 Nov 08:00','28 Nov 16:00'][round(datum.value/8)]", "labelAlign": "left", "labelBaseline": "top", "labelPadding": 1, "labelFontSize": 5}},
     "y": {"field": "v", "type": "quantitative", "scale": {"domain": [-42, 122], "nice": false, "zero": false}, "axis": null},
     "color": {"field": "s", "scale": {"domain": ["m", "b"], "range": ["#e6e6a2", "#b446c4"]}, "legend": null}}},
   {"data": {"name": "stoLev"}, "mark": {"type": "rule", "strokeDash": [1, 2], "color": "#c8c8c8"},
    "encoding": {"x": {"datum": -0.5, "type": "quantitative"}, "x2": {"datum": 67.6}, "y": {"field": "p", "type": "quantitative", "axis": null}}},
   {"data": {"name": "one"}, "mark": {"type": "rule", "color": "#a8a8a8"},
    "encoding": {"x": {"datum": 67.6, "type": "quantitative"}}},
   {"data": {"name": "sTicks"}, "mark": {"type": "text", "align": "left", "baseline": "middle", "dx": 2, "fontSize": 5.2, "color": "#e0e0e0"},
    "encoding": {"x": {"datum": 67.6, "type": "quantitative"}, "y": {"field": "v", "type": "quantitative", "axis": null}, "text": {"field": "t"}}},
   {"data": {"values": [{"t": "StochasticRSI,H1 (65,300,1) 86.2818  ==MA(20) 76.4400"}]}, "mark": {"type": "text", "align": "left", "baseline": "top", "dx": 3, "dy": 2, "fontSize": 5, "color": "#e0e0e0"},
    "encoding": {"x": {"datum": -0.5, "type": "quantitative"}, "y": {"datum": 122, "type": "quantitative", "axis": null}, "text": {"field": "t"}}}
  ]},
 {"width": 305, "height": 59, "view": {"fill": "#000000", "stroke": "#8c8c8c"},
  "layer": [
   {"data": {"name": "Rst"}, "mark": {"type": "line", "strokeWidth": 1, "clip": true},
    "encoding": {"x": {"field": "i", "type": "quantitative", "scale": {"domain": [-0.72, 72.42], "nice": false, "zero": false, "padding": 0},
      "axis": {"orient": "bottom", "offset": -8, "values": [0, 8, 16, 24, 32, 40, 48], "labelExpr": "['18 Nov 2008','19 Nov 16:00','21 Nov 00:00','24 Nov 04:00','25 Nov 12:00','26 Nov 20:00','28 Nov 04:00'][round(datum.value/8)]", "labelAlign": "left", "labelBaseline": "top", "labelPadding": 1, "labelFontSize": 5}},
     "y": {"field": "v", "type": "quantitative", "scale": {"domain": [-42, 122], "nice": false, "zero": false}, "axis": null},
     "color": {"field": "s", "scale": {"domain": ["m", "b"], "range": ["#e6e6a2", "#b446c4"]}, "legend": null}}},
   {"data": {"name": "stoLev"}, "mark": {"type": "rule", "strokeDash": [1, 2], "color": "#c8c8c8"},
    "encoding": {"x": {"datum": -0.72, "type": "quantitative"}, "x2": {"datum": 67.63}, "y": {"field": "p", "type": "quantitative", "axis": null}}},
   {"data": {"name": "one"}, "mark": {"type": "rule", "color": "#a8a8a8"},
    "encoding": {"x": {"datum": 67.63, "type": "quantitative"}}},
   {"data": {"name": "sTicks"}, "mark": {"type": "text", "align": "left", "baseline": "middle", "dx": 2, "fontSize": 5, "color": "#e0e0e0"},
    "encoding": {"x": {"datum": 67.63, "type": "quantitative"}, "y": {"field": "v", "type": "quantitative", "axis": null}, "text": {"field": "t"}}},
   {"data": {"values": [{"t": "StochasticRSI,H4 (65,300,1) 90.8596  ==MA(20) 84.2651"}]}, "mark": {"type": "text", "align": "left", "baseline": "top", "dx": 3, "dy": 2, "fontSize": 5, "color": "#e0e0e0"},
    "encoding": {"x": {"datum": -0.72, "type": "quantitative"}, "y": {"datum": 122, "type": "quantitative", "axis": null}, "text": {"field": "t"}}}
  ]}
]
}
